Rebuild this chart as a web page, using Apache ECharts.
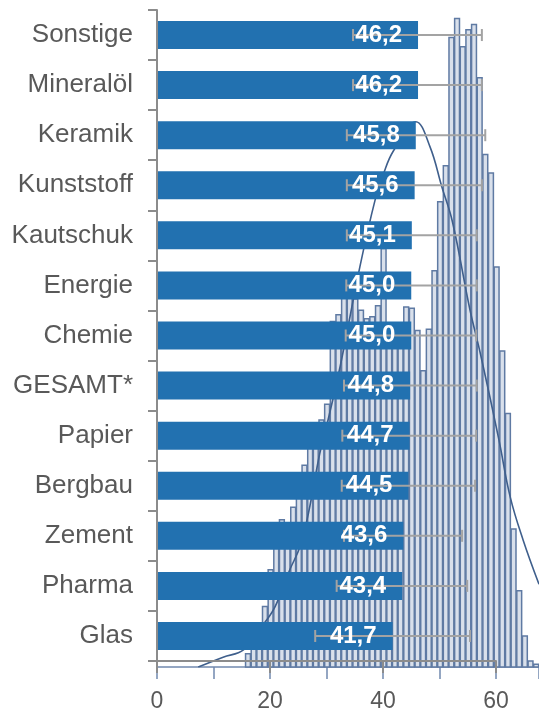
<!DOCTYPE html>
<html>
<head>
<meta charset="utf-8">
<script src="https://cdn.jsdelivr.net/npm/echarts@6/dist/echarts.min.js"></script>
<style>
  html, body { margin: 0; padding: 0; background: #fff; }
  #chart { width: 539px; height: 713px; }
</style>
</head>
<body>
<div id="chart"></div>
<script>
// Branchen und Durchschnittsalter
const categories = ['Sonstige', 'Mineralöl', 'Keramik', 'Kunststoff', 'Kautschuk', 'Energie', 'Chemie',
  'GESAMT*', 'Papier', 'Bergbau', 'Zement', 'Pharma', 'Glas']
const meanAge = [46.2, 46.2, 45.8, 45.6, 45.1, 45.0, 45.0, 44.8, 44.7, 44.5, 43.6, 43.4, 41.7]
const errLow = [34.7, 34.7, 33.6, 33.6, 33.6, 33.5, 33.4, 33.1, 32.8, 32.7, 33.1, 31.8, 28.0]
const errHigh = [57.5, 57.5, 58.1, 57.5, 56.6, 56.6, 56.5, 56.6, 56.5, 56.3, 54.0, 54.9, 55.4]
const xTicks = [0, 20, 40, 60]

// Altersverteilung im Hintergrund (Klassen je 1 Jahr)
const binStart = 15.6
const binCounts = [2, 3, 4, 9.2, 14.8, 19, 22.4, 21, 24.3, 27.5, 30.7, 34, 36, 37.6, 40,
  52.6, 53.6, 57.5, 57, 56, 54.3, 53, 53.3, 55, 63.7, 50, 49, 50, 54.8, 54.6, 51.2, 45.1, 51.4, 60.3,
  70.8, 76.3, 95.8, 98.7, 94.4, 97.0, 97.8, 89.7, 78.0, 75.2, 60.9, 48.1, 38.6, 21.0, 11.6, 4.7, 0.9, 0.4]
const curveX = [7.3, 11.7, 15.3, 18.5, 20.9, 23.5, 25.3, 26.8, 28.8, 30.0, 32.4, 35.9, 38.6, 40.1, 41.8,
  45.8, 48.3, 50.4, 52.3, 55.4, 57.2, 60.5, 62.5, 64.8, 67.6]
const curveY = [0, 1.5, 2.6, 6.1, 9.2, 14.8, 18.3, 23.4, 32.5, 36.6, 45.7, 60.9, 71.1, 75.1, 78.5,
  83.0, 79.2, 73.1, 67.7, 54.3, 47.8, 34.6, 25.9, 19.3, 12.6]

const chart = echarts.init(document.getElementById('chart'))
const fmt = v => v.toFixed(1).replace('.', ',')

const histData = binCounts.map((c, i) => [binStart + i, c])
const curveData = curveX.map((x, i) => [x, curveY[i]])
const errData = categories.map((c, i) => [i, errLow[i], errHigh[i]])

const option = {
  animation: false,
  grid: [
    { left: 157, right: 43, top: 10, bottom: 46 },
    { left: 157, right: 0, top: 10, bottom: 46 }
  ],
  xAxis: [
    {
      type: 'value', gridIndex: 0, min: 0, max: 60, interval: 20, z: 5,
      splitLine: { show: false },
      axisLine: { show: true, lineStyle: { color: '#8c8c8c', width: 2 } },
      axisTick: { show: true, length: 12, lineStyle: { color: '#8c8c8c', width: 2 } },
      axisLabel: {
        margin: 29, color: '#595959', fontSize: 23, fontFamily: 'Liberation Sans, Arial',
        customValues: xTicks
      }
    },
    {
      type: 'value', gridIndex: 1, min: 0, max: 67.6, interval: 10,
      splitLine: { show: false },
      axisLine: { show: true, lineStyle: { color: '#7189ae', width: 1.5 } },
      axisTick: { show: true, length: 12, lineStyle: { color: '#7189ae', width: 1.5 } },
      axisLabel: { show: false }
    }
  ],
  yAxis: [
    {
      type: 'category', gridIndex: 0, data: categories, inverse: true, z: 5,
      axisLine: { show: true, lineStyle: { color: '#8c8c8c', width: 2 } },
      axisTick: { show: true, length: 9, lineStyle: { color: '#8c8c8c', width: 2 } },
      axisLabel: { margin: 24, color: '#595959', fontSize: 26, fontFamily: 'Liberation Sans, Arial' }
    },
    {
      type: 'value', gridIndex: 1, min: 0, max: 100, show: false
    }
  ],
  series: [
    {
      // Histogramm
      type: 'custom', xAxisIndex: 1, yAxisIndex: 1, z: 1,
      data: histData,
      renderItem(params, api) {
        const p0 = api.coord([api.value(0), api.value(1)])
        const p1 = api.coord([api.value(0) + 1, 0])
        return {
          type: 'rect',
          shape: { x: p0[0] + 0.4, y: p0[1], width: p1[0] - p0[0] - 0.8, height: p1[1] - p0[1] },
          style: { fill: '#d9e0eb', stroke: '#5f7aa3', lineWidth: 1.5 }
        }
      }
    },
    {
      // Normalverteilungskurve
      type: 'line', xAxisIndex: 1, yAxisIndex: 1, z: 2,
      data: curveData, smooth: 0.4, symbol: 'none',
      lineStyle: { color: '#3f5f8c', width: 1.6 }
    },
    {
      type: 'bar', xAxisIndex: 0, yAxisIndex: 0, z: 3,
      data: meanAge, barWidth: 28,
      itemStyle: { color: '#2271b0' }
    },
    {
      // Streuung
      type: 'custom', xAxisIndex: 0, yAxisIndex: 0, z: 4,
      data: errData,
      renderItem(params, api) {
        const lo = api.coord([api.value(1), api.value(0)])
        const hi = api.coord([api.value(2), api.value(0)])
        const h = 6
        const style = { stroke: '#a3a3a3', lineWidth: 2 }
        return {
          type: 'group',
          children: [
            { type: 'line', shape: { x1: lo[0], y1: lo[1], x2: hi[0], y2: hi[1] }, style },
            { type: 'line', shape: { x1: lo[0], y1: lo[1] - h, x2: lo[0], y2: lo[1] + h }, style },
            { type: 'line', shape: { x1: hi[0], y1: hi[1] - h, x2: hi[0], y2: hi[1] + h }, style }
          ]
        }
      }
    },
    {
      // Werte-Beschriftung über den Fehlerbalken
      type: 'bar', xAxisIndex: 0, yAxisIndex: 0, z: 6,
      data: meanAge, barWidth: 28, barGap: '-100%',
      itemStyle: { color: 'rgba(0,0,0,0)' },
      label: {
        show: true, position: 'insideRight', distance: 16,
        color: '#fff', fontWeight: 'bold', fontSize: 24, fontFamily: 'Liberation Sans, Arial',
        formatter: p => fmt(p.value)
      }
    }
  ]
}
chart.setOption(option)
</script>
</body>
</html>
